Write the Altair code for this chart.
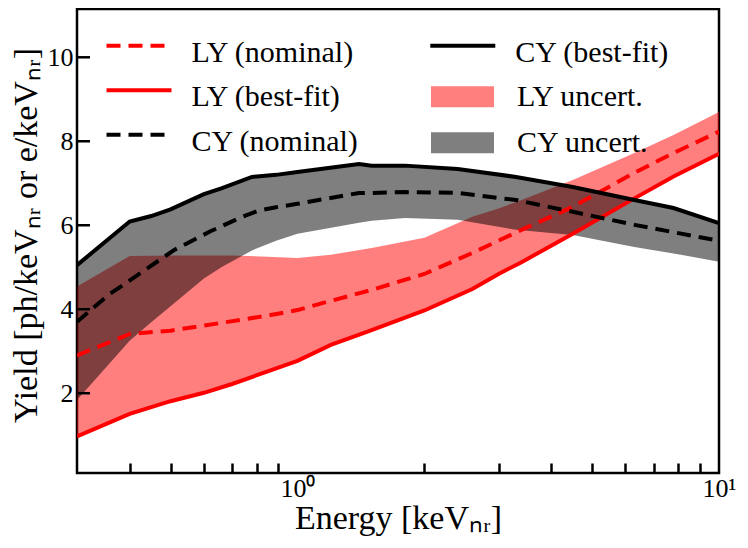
import altair as alt
import pandas as pd

# ---------------- data ----------------
# LY band: lower edge = LY best-fit, upper edge of LY uncertainty band
ly_E = [0.3, 0.4, 0.5, 0.6, 0.7, 0.85, 1.0, 1.2, 1.5, 2.0, 2.6, 3.0, 3.4, 4.5, 6.3, 7.8, 10]
ly_bestfit = [0.97, 1.51, 1.81, 2.01, 2.22, 2.52, 2.77, 3.15, 3.50, 3.97, 4.48, 4.84, 5.12, 5.80, 6.64, 7.16, 7.70]
ly_upper = [4.54, 5.27, 5.28, 5.28, 5.28, 5.25, 5.22, 5.30, 5.46, 5.70, 6.20, 6.40, 6.60, 7.08, 7.72, 8.15, 8.70]

ly_nom_E = [0.3, 0.4, 0.5, 0.6, 0.85, 1.0, 1.2, 1.5, 2.0, 2.6, 3.4, 4.5, 6.3, 7.8, 10]
ly_nominal = [2.90, 3.41, 3.49, 3.61, 3.85, 3.98, 4.20, 4.46, 4.84, 5.34, 5.89, 6.44, 7.25, 7.72, 8.23]

# CY band: upper edge = CY best-fit, lower edge of CY uncertainty band
cy_E = [0.3, 0.4, 0.45, 0.5, 0.6, 0.66, 0.78, 0.89, 1.0, 1.4, 1.5, 1.8, 2.4, 3.3, 4.5, 6.3, 7.8, 10]
cy_bestfit = [5.05, 6.09, 6.22, 6.38, 6.74, 6.88, 7.15, 7.20, 7.27, 7.46, 7.42, 7.42, 7.34, 7.15, 6.91, 6.60, 6.41, 6.05]
cy_lower = [1.84, 3.25, 3.69, 4.07, 4.73, 5.00, 5.40, 5.63, 5.80, 6.06, 6.11, 6.17, 6.13, 5.89, 5.77, 5.48, 5.33, 5.13]

cy_nom_E = [0.3, 0.356, 0.43, 0.51, 0.62, 0.74, 0.81, 0.89, 1.0, 1.4, 1.5, 1.8, 2.4, 3.3, 4.5, 6.3, 10]
cy_nominal = [3.70, 4.34, 4.90, 5.41, 5.85, 6.20, 6.35, 6.43, 6.51, 6.77, 6.77, 6.79, 6.77, 6.60, 6.32, 6.01, 5.63]

bands = ["LY uncert.", "CY uncert."]

x_major = [1, 10]
x_minor = [0.4, 0.5, 0.6, 0.7, 0.8, 0.9, 2, 3, 4, 5, 6, 7, 8, 9]
y_ticks = [2, 4, 6, 8, 10]

# ---------------- tables ----------------
lyband_df = pd.DataFrame({"band": bands[0], "E": ly_E, "lo": ly_bestfit, "hi": ly_upper})
cyband_df = pd.DataFrame({"band": bands[1], "E": cy_E, "lo": cy_lower, "hi": cy_bestfit})
yticks_df = pd.DataFrame({"Y": y_ticks})

FONT = "Liberation Serif"
W, H = 642, 464
xdom = [0.3, 10]
ydom = [0.1, 11.15]
XT, YT = 10, 13  # inward tick lengths


def X(axis):
    return alt.X("E:Q", scale=alt.Scale(type="log", domain=xdom, nice=False), axis=axis)


def Y(field, axis):
    return alt.Y(f"{field}:Q", scale=alt.Scale(domain=ydom, nice=False, zero=False), axis=axis)


x_label_axis = alt.Axis(
    values=x_major, labelExpr="datum.value == 1 ? '10⁰' : '10¹'",
    ticks=False, domain=False, grid=False, labelFlush=False, labelOverlap=False,
    labelFont=FONT, labelFontSize=26, labelColor="black", labelPadding=2, tickSize=0,
    title="Energy [keVₙᵣ]", titleFont=FONT, titleFontSize=34, titleFontWeight="normal",
    titleColor="black", titleY=55, titleBaseline="alphabetic",
)
y_label_axis = alt.Axis(
    values=y_ticks, format="d", ticks=False, domain=False, grid=False,
    labelFont=FONT, labelFontSize=26, labelColor="black", labelPadding=4, tickSize=0,
    labelFlush=False, labelOverlap=False,
    title="Yield [ph/keVₙᵣ or e/keVₙᵣ]", titleFont=FONT, titleFontSize=34,
    titleFontWeight="normal", titleColor="black", titleAngle=270,
    titleX=-41, titleY=226, titleBaseline="alphabetic", titleAlign="center",
)
# tick-only x axis, pushed inside the frame by its own tick length so ticks point inward
x_tick_axis = alt.Axis(
    orient="bottom", offset=-XT, values=x_minor, labels=False, domain=False, grid=False,
    ticks=True, tickSize=XT, tickWidth=2.5, tickColor="black", title=None,
)

line_sym = "M0,-0.7L6.5,-0.7"
patch_sym = "M0,-1.05L6.3,-1.05L6.3,1.05L0,1.05Z"

ROW0 = 28.8
ROWSTEP = 44.5
LFS = 30


def line_legend(lx, ly, dash):
    return alt.Legend(
        orient="none", legendX=lx, legendY=ly, title=None, direction="vertical",
        symbolType=line_sym, symbolSize=400, symbolStrokeWidth=4, symbolDash=dash,
        labelFont=FONT, labelFontSize=LFS, labelColor="black", labelOffset=70,
        padding=0, labelLimit=400,
    )


legC = alt.Legend(
    orient="none", legendX=339, legendY=ROW0 + ROWSTEP - 0.5, title=None, direction="vertical",
    symbolType=patch_sym, symbolSize=400, symbolStrokeWidth=0, symbolOpacity=0.5,
    labelFont=FONT, labelFontSize=LFS, labelColor="black", labelOffset=71,
    rowPadding=16, padding=0, labelLimit=400,
)

fill_scale = alt.Scale(domain=bands, range=["red", "black"])

area_ly = alt.Chart(lyband_df).mark_area(opacity=0.5, clip=True).encode(
    x=X(x_label_axis), y=Y("lo", y_label_axis), y2="hi:Q",
    fill=alt.Fill("band:N", scale=fill_scale, legend=legC),
)
area_cy = alt.Chart(cyband_df).mark_area(opacity=0.5, clip=True).encode(
    x=X(x_tick_axis), y=Y("lo", None), y2="hi:Q",
    fill=alt.Fill("band:N", scale=fill_scale, legend=legC),
)

DASH = [14, 8]


def line_layer(name, E, vals, color, dash, lx, ly):
    df = pd.DataFrame({"series": name, "E": E, "Y": vals})
    props = dict(strokeWidth=4, clip=True, strokeCap="butt")
    if dash:
        props["strokeDash"] = dash
    return alt.Chart(df).mark_line(**props).encode(
        x=X(None), y=Y("Y", None),
        color=alt.Color("series:N", scale=alt.Scale(domain=[name], range=[color]),
                        legend=line_legend(lx, ly, dash if dash else [1, 0])),
    )


l_ly_nom = line_layer("LY (nominal)", ly_nom_E, ly_nominal, "red", DASH, 14.5, ROW0)
l_ly_fit = line_layer("LY (best-fit)", ly_E, ly_bestfit, "red", None, 14.5, ROW0 + ROWSTEP)
l_cy_nom = line_layer("CY (nominal)", cy_nom_E, cy_nominal, "black", DASH, 14.5, ROW0 + 2 * ROWSTEP)
l_cy_fit = line_layer("CY (best-fit)", cy_E, cy_bestfit, "black", None, 338.3, ROW0)

# inward y ticks at the left frame edge, placed through the y scale
y_tick_marks = alt.Chart(yticks_df).mark_rule(strokeWidth=2.5, color="black").encode(
    y=Y("Y", None), x=alt.value(1), x2=alt.value(YT),
)

chart = alt.layer(
    area_ly, area_cy, l_ly_nom, l_ly_fit, l_cy_nom, l_cy_fit, y_tick_marks
).resolve_scale(
    x="independent", y="independent", color="independent"
).properties(
    width=W, height=H,
    autosize=alt.AutoSizeParams(type="none"),
    padding={"left": 69, "top": 1, "right": 20, "bottom": 75},
).configure(
    background="white", font=FONT,
).configure_view(
    stroke="black", strokeWidth=2.5,
).configure_legend(
    labelFont=FONT, labelFontSize=LFS, labelColor="black",
)

chart.save("out.html", embed_options={"renderer": "svg", "actions": False})
